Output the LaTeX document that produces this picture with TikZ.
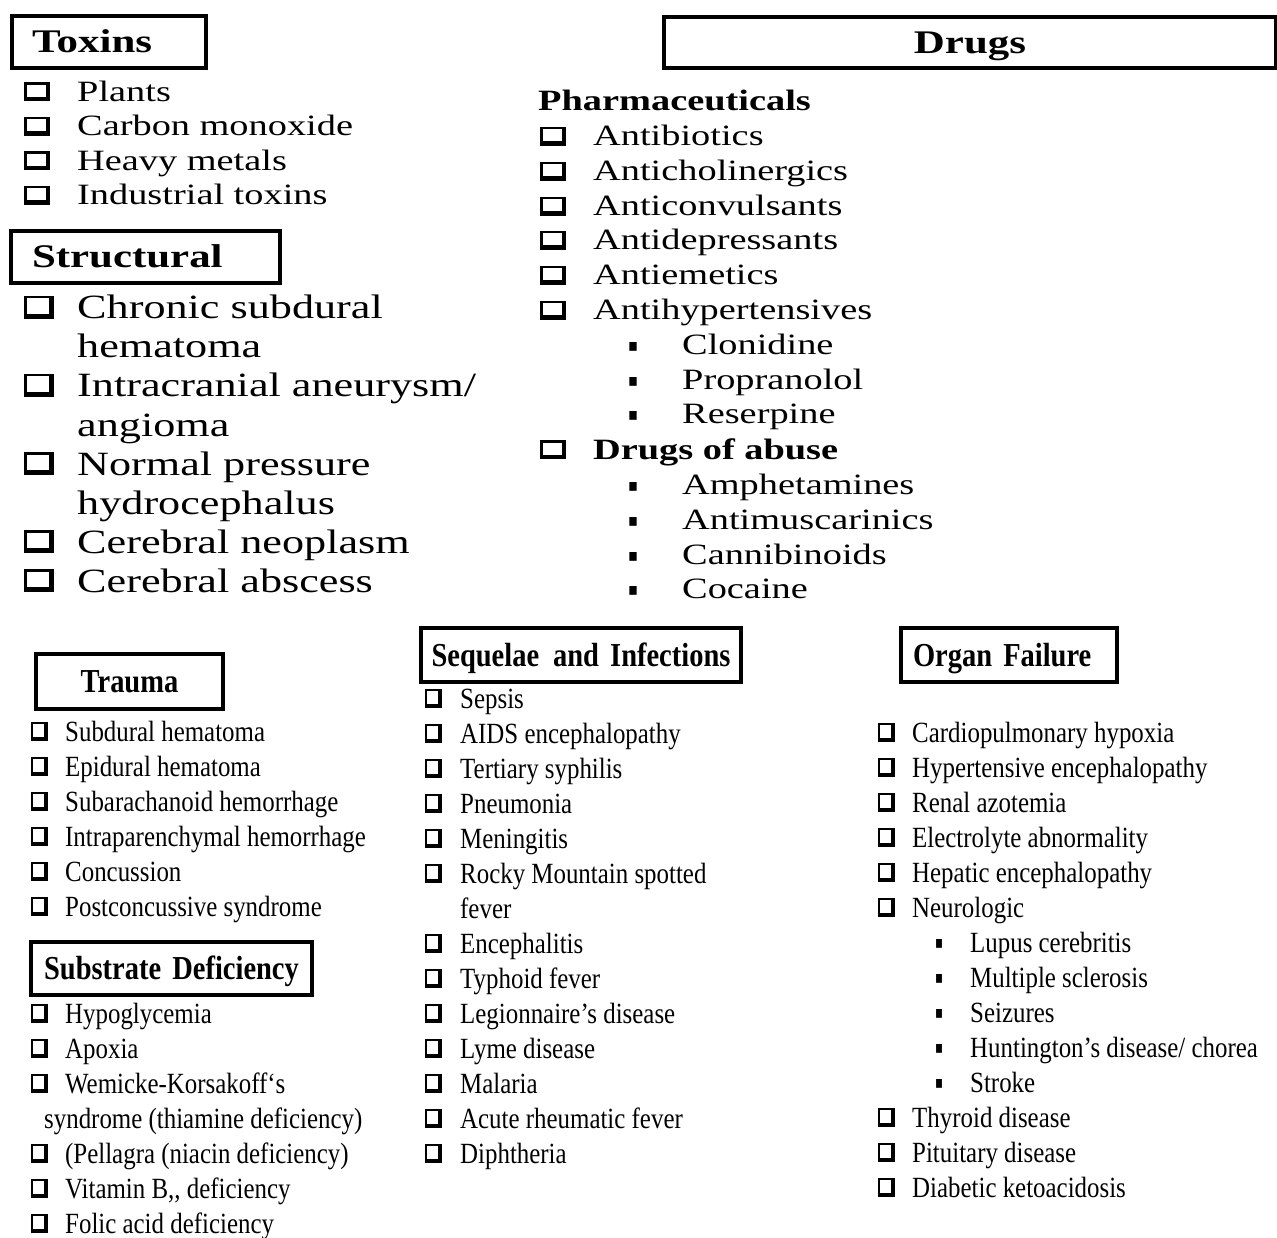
\documentclass[tikz,border=0pt]{standalone}
\usepackage{fontspec}
\usepackage{graphicx}
\setmainfont{Liberation Serif}
\newfontfamily\wideserif[FakeStretch=1.3]{Liberation Serif}
\newfontfamily\narrowserif[FakeStretch=0.85]{Liberation Serif}
\newfontfamily\symfont{DejaVu Sans}

% Kästchen mit Schatten (Breite, Höhe, dünne Linie, Schatten) und kleine Quadrate
\newcommand{\cbox}[4]{\leavevmode\hbox{%
    \rlap{\rule{#1}{#4}}%
    \rlap{\rule[\dimexpr#2-#3\relax]{#1}{#3}}%
    \rlap{\rule{#3}{#2}}%
    \kern\dimexpr#1-#4\relax\rule{#4}{#2}}}
\newcommand{\cboxw}{\cbox{26pt}{19pt}{2.5pt}{4.5pt}}
\newcommand{\cboxb}{\cbox{30pt}{23pt}{2.5pt}{5pt}}
\newcommand{\cboxn}{\cbox{17pt}{19pt}{2pt}{4pt}}
\newcommand{\sqbullet}[3]{\raisebox{#3}{\resizebox{#1}{#2}{\symfont ▪}}}

\tikzset{
    headbox/.style={draw, line width=4pt, inner ysep=0pt, text height=22pt, text depth=0pt, anchor=north west},
    widehead/.style={headbox, font=\wideserif\bfseries\fontsize{33}{36}\selectfont},
    narrowhead/.style={headbox, font=\narrowserif\bfseries\fontsize{33.5}{36}\selectfont},
    wideitem/.style={anchor=base west, inner sep=0pt, font=\wideserif\fontsize{29.5}{32}\selectfont},
    bigitem/.style={anchor=base west, inner sep=0pt, font=\wideserif\fontsize{34}{36}\selectfont},
    narrowitem/.style={anchor=base west, inner sep=0pt, font=\narrowserif\fontsize{29.3}{32}\selectfont}
}

\begin{document}
\begin{tikzpicture}[x=1pt, y=-1pt]

    \useasboundingbox[fill=white] (0,0) rectangle (1277,1238);

    % --- OBEN LINKS: Toxins ---
    \node[widehead, minimum width=194pt, minimum height=52pt, inner xsep=20pt, text width=154pt, align=left] (toxins) at (10,14) {Toxins};
    \foreach \t [count=\i from 0] in {Plants, Carbon monoxide, Heavy metals, Industrial toxins}
        \node[wideitem] (tox\i) at (24,{101.5+34.5*\i}) {\makebox[53pt][l]{\cboxw}\t};

    % --- Structural ---
    \node[widehead, minimum width=269pt, minimum height=52pt, inner xsep=21pt, text width=227pt, align=left] (structural) at (9,229) {Structural};
    \foreach \y/\m/\t [count=\i] in {319/1/Chronic subdural, 358/0/hematoma, 397/1/{Intracranial aneurysm/}, 436/0/angioma,
                                     475/1/Normal pressure, 514/0/hydrocephalus, 553/1/Cerebral neoplasm, 592/1/Cerebral abscess}
        \node[bigitem] (str\i) at (24,\y) {\makebox[53pt][l]{\ifnum\m=1 \cboxb\fi}\t};

    % --- OBEN RECHTS: Drugs ---
    \node[widehead, minimum width=612pt, minimum height=51pt, inner xsep=0pt, text width=612pt, align=center] (drugs) at (662,15) {Drugs};
    \node[wideitem, font=\wideserif\bfseries\fontsize{29.5}{32}\selectfont] (pharma) at (538,111) {Pharmaceuticals};
    \foreach \y/\m/\t [count=\i] in {146/1/Antibiotics, 181/1/Anticholinergics, 216/1/Anticonvulsants, 250/1/Antidepressants,
                                     285/1/Antiemetics, 320/1/Antihypertensives, 355/2/Clonidine, 390/2/Propranolol, 424/2/Reserpine,
                                     459/1/\textbf{Drugs of abuse}, 494/2/Amphetamines, 529/2/Antimuscarinics, 564/2/Cannibinoids, 598/2/Cocaine}
        \node[wideitem] (drg\i) at (540,\y) {\ifcase\m\or\makebox[53pt][l]{\cboxw}\or\hspace*{88pt}\makebox[54pt][l]{\sqbullet{10pt}{9pt}{3pt}}\fi\t};

    % --- UNTEN LINKS: Trauma ---
    \node[narrowhead, minimum width=187pt, minimum height=55pt, inner xsep=0pt, text width=187pt, align=center] (trauma) at (34,652) {Trauma};
    \foreach \t [count=\i from 0] in {Subdural hematoma, Epidural hematoma, Subarachanoid hemorrhage,
                                      Intraparenchymal hemorrhage, Concussion, Postconcussive syndrome}
        \node[narrowitem] (trm\i) at (31,{741+35*\i}) {\makebox[34pt][l]{\cboxn}\t};

    % --- Substrate Deficiency ---
    \node[narrowhead, minimum width=281pt, minimum height=53pt, inner xsep=0pt, text width=281pt, align=center] (substrate) at (29,940) {Substrate Deficiency};
    \foreach \y/\t [count=\i] in {1023/Hypoglycemia, 1058/Apoxia, 1093/Wemicke-Korsakoff‘s, 1163/(Pellagra (niacin deficiency),
                                  1198/{Vitamin B,, deficiency}, 1233/Folic acid deficiency}
        \node[narrowitem] (sub\i) at (31,\y) {\makebox[34pt][l]{\cboxn}\t};
    \node[narrowitem] (subwk) at (44,1128) {syndrome (thiamine deficiency)};

    % --- MITTE: Sequelae and Infections ---
    \node[narrowhead, minimum width=320pt, minimum height=54pt, inner xsep=0pt, text width=320pt, align=center] (sequelae) at (419,626) {Sequelae\hspace{14pt}and Infections};
    \foreach \y/\m/\t [count=\i] in {708/1/Sepsis, 743/1/AIDS encephalopathy, 778/1/Tertiary syphilis, 813/1/Pneumonia,
                                     848/1/Meningitis, 883/1/Rocky Mountain spotted, 918/0/fever, 953/1/Encephalitis,
                                     988/1/Typhoid fever, 1023/1/Legionnaire’s disease, 1058/1/Lyme disease, 1093/1/Malaria,
                                     1128/1/Acute rheumatic fever, 1163/1/Diphtheria}
        \node[narrowitem] (seq\i) at (425,\y) {\makebox[35pt][l]{\ifnum\m=1 \cboxn\fi}\t};

    % --- UNTEN RECHTS: Organ Failure ---
    \node[narrowhead, minimum width=216pt, minimum height=54pt, inner xsep=12pt, text width=192pt, align=left] (organ) at (899,626) {Organ Failure};
    \foreach \y/\m/\t [count=\i] in {742/1/Cardiopulmonary hypoxia, 777/1/Hypertensive encephalopathy, 812/1/Renal azotemia,
                                     847/1/Electrolyte abnormality, 882/1/Hepatic encephalopathy, 917/1/Neurologic,
                                     952/2/Lupus cerebritis, 987/2/Multiple sclerosis, 1022/2/Seizures,
                                     1057/2/{Huntington’s disease/ chorea}, 1092/2/Stroke, 1127/1/Thyroid disease,
                                     1162/1/Pituitary disease, 1197/1/Diabetic ketoacidosis}
        \node[narrowitem] (org\i) at (878,\y) {\ifcase\m\or\makebox[34pt][l]{\cboxn}\or\hspace*{57pt}\makebox[35pt][l]{\sqbullet{8pt}{9pt}{4pt}}\fi\t};

\end{tikzpicture}
\end{document}
